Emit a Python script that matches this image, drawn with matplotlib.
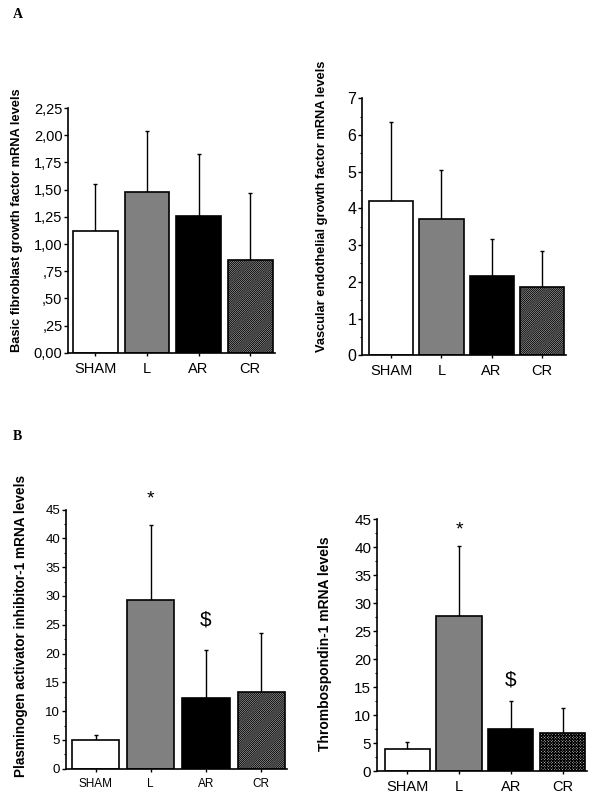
import matplotlib
matplotlib.use("Agg")
import matplotlib.pyplot as plt
from matplotlib.ticker import MultipleLocator, FixedLocator

plt.rcParams['font.family'] = ['Liberation Sans', 'DejaVu Sans']
plt.rcParams['hatch.linewidth'] = 0.7

groups = ["SHAM", "L", "AR", "CR"]

bfgf_mean = [1.12, 1.48, 1.26, 0.85]
bfgf_err = [0.43, 0.56, 0.57, 0.62]

vegf_mean = [4.2, 3.72, 2.17, 1.87]
vegf_err = [2.17, 1.32, 1.01, 0.98]

pai_mean = [5.0, 29.3, 12.3, 13.3]
pai_err = [0.9, 13.1, 8.3, 10.3]

tsp_mean = [4.0, 27.8, 7.5, 6.9]
tsp_err = [1.3, 12.4, 5.1, 4.3]

bfgf_ticks = [0, 0.25, 0.5, 0.75, 1.0, 1.25, 1.5, 1.75, 2.0, 2.25]
bfgf_ticklabels = ["0,00", ",25", ",50", ",75", "1,00", "1,25", "1,50", "1,75", "2,00", "2,25"]

fig = plt.figure(figsize=(6, 8), dpi=100)

colors = ["white", "#808080", "black", "#d0d0d0"]


def panel(rect, means, errs, ylabel, ylim, major, minor, xlim, width,
          tick_fs, xtick_fs, label_fs, label_xy, hatch, ticks=None, ticklabels=None):
    ax = fig.add_axes(rect)
    x = list(range(len(groups)))
    bars = ax.bar(x, means, width=width, color=colors, edgecolor="black",
                  linewidth=1.2, zorder=2)
    bars[3].set_hatch(hatch)
    ax.errorbar(x, means, yerr=[[0] * len(errs), errs], fmt="none",
                ecolor="black", elinewidth=1.0, capsize=1.5, capthick=1.0, zorder=1)
    ax.set_xlim(*xlim)
    ax.set_ylim(*ylim)
    if ticks is not None:
        ax.yaxis.set_major_locator(FixedLocator(ticks))
        ax.set_yticklabels(ticklabels)
    else:
        ax.yaxis.set_major_locator(MultipleLocator(major))
    if minor:
        ax.yaxis.set_minor_locator(MultipleLocator(minor))
    ax.set_xticks(x)
    ax.set_xticklabels(groups, fontsize=xtick_fs)
    ax.tick_params(axis="y", labelsize=tick_fs, direction="out", length=3, width=1, pad=1)
    ax.tick_params(axis="y", which="minor", length=1.5, width=0.8)
    ax.tick_params(axis="x", direction="out", length=2.5, width=1, pad=4)
    for s in ["top", "right"]:
        ax.spines[s].set_visible(False)
    for s in ["left", "bottom"]:
        ax.spines[s].set_linewidth(1.2)
    ax.set_ylabel(ylabel, fontsize=label_fs, fontweight="bold")
    ax.yaxis.set_label_coords(*label_xy)
    return ax


axA1 = panel([0.1133, 0.559, 0.345, 0.306], bfgf_mean, bfgf_err,
             "Basic fibroblast growth factor mRNA levels", (0, 2.25), None, None,
             (-0.53, 3.48), 0.87, 10.5, 10.5, 9.3, (-0.217, 0.543), "/" * 16,
             ticks=bfgf_ticks, ticklabels=bfgf_ticklabels)

axA2 = panel([0.603, 0.556, 0.34, 0.321], vegf_mean, vegf_err,
             "Vascular endothelial growth factor mRNA levels", (0, 7), 1, 0.5,
             (-0.59, 3.48), 0.88, 11.5, 10.5, 9.3, (-0.165, 0.58), "/" * 16)

axB1 = panel([0.1095, 0.039, 0.369, 0.324], pai_mean, pai_err,
             "Plasminogen activator inhibitor-1 mRNA levels", (0, 45), 5, 2.5,
             (-0.54, 3.47), 0.855, 9.5, 8.5, 9.8, (-0.17, 0.55), "/" * 16)

axB2 = panel([0.628, 0.036, 0.3505, 0.315], tsp_mean, tsp_err,
             "Thrombospondin-1 mRNA levels", (0, 45), 5, 2.5,
             (-0.585, 3.47), 0.87, 11, 10.5, 10, (-0.213, 0.506), "x" * 12)

axB1.text(1, 46.8, "*", ha="center", va="center", fontsize=14, clip_on=False)
axB1.text(2, 25.9, "$", ha="center", va="center", fontsize=15)
axB2.text(1, 43.0, "*", ha="center", va="center", fontsize=14, clip_on=False)
axB2.text(2, 16.3, "$", ha="center", va="center", fontsize=15)

fig.text(13 / 600, 1 - 14 / 800, "A", fontsize=10, fontweight="bold",
         family="Liberation Serif", ha="left", va="center")
fig.text(13 / 600, 1 - 437 / 800, "B", fontsize=10, fontweight="bold",
         family="Liberation Serif", ha="left", va="center")

fig.savefig("out.png", dpi=100)
